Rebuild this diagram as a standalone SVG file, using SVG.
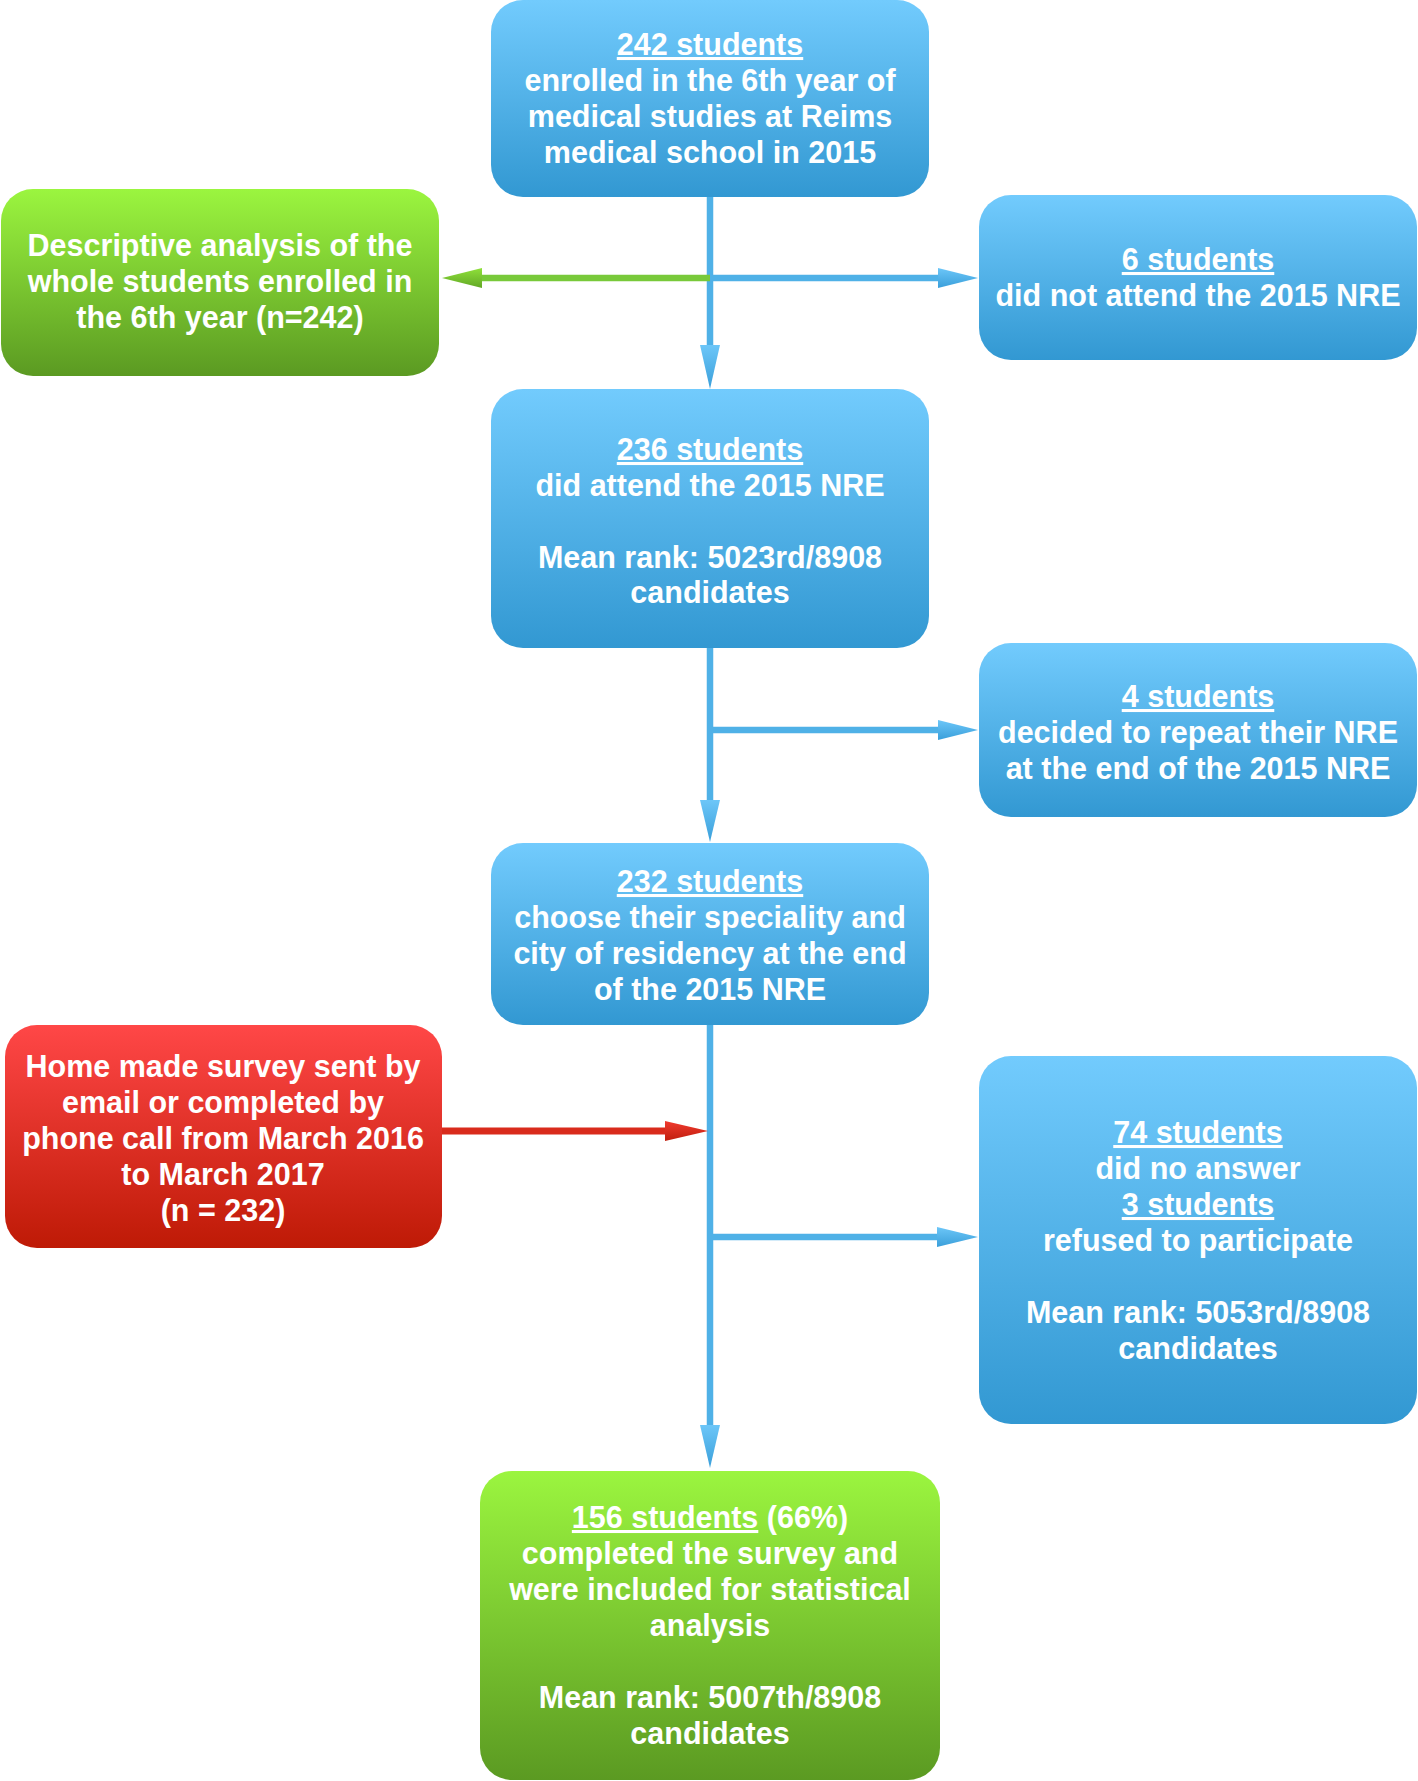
<svg xmlns="http://www.w3.org/2000/svg" width="1418" height="1781" viewBox="0 0 1418 1781">
<defs>
<linearGradient id="gBlue" x1="0" y1="0" x2="0" y2="1"><stop offset="0" stop-color="#72CBFD"/><stop offset="1" stop-color="#3298D2"/></linearGradient>
<linearGradient id="gGreen" x1="0" y1="0" x2="0" y2="1"><stop offset="0" stop-color="#9BF53F"/><stop offset="1" stop-color="#5B9A22"/></linearGradient>
<linearGradient id="gRed" x1="0" y1="0" x2="0" y2="1"><stop offset="0" stop-color="#FF4747"/><stop offset="1" stop-color="#BE1A06"/></linearGradient>
<linearGradient id="hBlue" x1="0" y1="0" x2="0" y2="1"><stop offset="0" stop-color="#6CC6F8"/><stop offset="1" stop-color="#3A9FDA"/></linearGradient>
<linearGradient id="hRed" x1="0" y1="0" x2="0" y2="1"><stop offset="0" stop-color="#F03A2E"/><stop offset="1" stop-color="#C01E0E"/></linearGradient>
<linearGradient id="hGreen" x1="0" y1="0" x2="0" y2="1"><stop offset="0" stop-color="#8FE03A"/><stop offset="1" stop-color="#62A826"/></linearGradient>
</defs>
<style>
text{font-family:"Liberation Sans",Arial,Helvetica,sans-serif;font-weight:bold;font-size:30.5px;fill:#fff;text-anchor:middle}
.u{text-decoration:underline}
.bl{stroke:#4FB1E7;stroke-width:6.5;fill:none}
</style>
<g id="connectors">
<line class="bl" x1="710" y1="197" x2="710" y2="350"/>
<polygon points="700,345 720,345 710,389" fill="url(#hBlue)"/>
<line x1="482" y1="278" x2="710" y2="278" stroke="#78C93A" stroke-width="6.5"/>
<polygon points="482,268 482,288 442,278" fill="url(#hGreen)"/>
<line class="bl" x1="710" y1="278" x2="940" y2="278"/>
<polygon points="938,268 938,288 978,278" fill="url(#hBlue)"/>
<line class="bl" x1="710" y1="648" x2="710" y2="805"/>
<polygon points="700,800 720,800 710,842" fill="url(#hBlue)"/>
<line class="bl" x1="710" y1="730" x2="940" y2="730"/>
<polygon points="938,720 938,740 978,730" fill="url(#hBlue)"/>
<line class="bl" x1="710" y1="1025" x2="710" y2="1430"/>
<polygon points="700,1425 720,1425 710,1468" fill="url(#hBlue)"/>
<line x1="442" y1="1131" x2="668" y2="1131" stroke="#D92B1C" stroke-width="7"/>
<polygon points="665,1121 665,1141 708,1131" fill="url(#hRed)"/>
<line class="bl" x1="710" y1="1237" x2="940" y2="1237"/>
<polygon points="937,1227 937,1247 978,1237" fill="url(#hBlue)"/>
</g>
<g id="n1">
<rect x="491" y="0" width="438" height="197" rx="32" fill="url(#gBlue)"/>
<text x="710" y="55"><tspan class="u">242 students</tspan></text>
<text x="710" y="91">enrolled in the 6th year of</text>
<text x="710" y="127">medical studies at Reims</text>
<text x="710" y="163">medical school in 2015</text>
</g>
<g id="n_desc">
<rect x="1" y="189" width="438" height="187" rx="32" fill="url(#gGreen)"/>
<text x="220" y="256">Descriptive analysis of the</text>
<text x="220" y="292">whole students enrolled in</text>
<text x="220" y="328">the 6th year (n=242)</text>
</g>
<g id="n_excl1">
<rect x="979" y="195" width="438" height="165" rx="32" fill="url(#gBlue)"/>
<text x="1198" y="270"><tspan class="u">6 students</tspan></text>
<text x="1198" y="306">did not attend the 2015 NRE</text>
</g>
<g id="n2">
<rect x="491" y="389" width="438" height="259" rx="32" fill="url(#gBlue)"/>
<text x="710" y="460"><tspan class="u">236 students</tspan></text>
<text x="710" y="496">did attend the 2015 NRE</text>
<text x="710" y="568">Mean rank: 5023rd/8908</text>
<text x="710" y="603">candidates</text>
</g>
<g id="n_excl2">
<rect x="979" y="643" width="438" height="174" rx="32" fill="url(#gBlue)"/>
<text x="1198" y="707"><tspan class="u">4 students</tspan></text>
<text x="1198" y="743">decided to repeat their NRE</text>
<text x="1198" y="779">at the end of the 2015 NRE</text>
</g>
<g id="n3">
<rect x="491" y="843" width="438" height="182" rx="32" fill="url(#gBlue)"/>
<text x="710" y="892"><tspan class="u">232 students</tspan></text>
<text x="710" y="928">choose their speciality and</text>
<text x="710" y="964">city of residency at the end</text>
<text x="710" y="1000">of the 2015 NRE</text>
</g>
<g id="n_survey">
<rect x="5" y="1025" width="437" height="223" rx="32" fill="url(#gRed)"/>
<text x="223" y="1077">Home made survey sent by</text>
<text x="223" y="1113">email or completed by</text>
<text x="223" y="1149">phone call from March 2016</text>
<text x="223" y="1185">to March 2017</text>
<text x="223" y="1221">(n = 232)</text>
</g>
<g id="n_excl3">
<rect x="979" y="1056" width="438" height="368" rx="32" fill="url(#gBlue)"/>
<text x="1198" y="1143"><tspan class="u">74 students</tspan></text>
<text x="1198" y="1179">did no answer</text>
<text x="1198" y="1215"><tspan class="u">3 students</tspan></text>
<text x="1198" y="1251">refused to participate</text>
<text x="1198" y="1323">Mean rank: 5053rd/8908</text>
<text x="1198" y="1359">candidates</text>
</g>
<g id="n4">
<rect x="480" y="1471" width="460" height="309" rx="32" fill="url(#gGreen)"/>
<text x="710" y="1528"><tspan class="u">156 students</tspan> (66%)</text>
<text x="710" y="1564">completed the survey and</text>
<text x="710" y="1600">were included for statistical</text>
<text x="710" y="1636">analysis</text>
<text x="710" y="1708">Mean rank: 5007th/8908</text>
<text x="710" y="1744">candidates</text>
</g>
</svg>
